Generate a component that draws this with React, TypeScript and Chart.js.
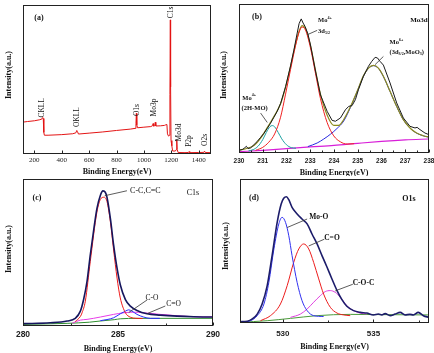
import { useEffect, useRef } from "react";
import { Chart, registerables } from "chart.js";

Chart.register(...registerables);

type Pt = [number, number];
type Part = [string, "" | "sup" | "sub"];

const SERIF = '"Liberation Serif", "Times New Roman", serif';
const SANS = '"Liberation Sans", Arial, sans-serif';

// ---------- (a) survey spectrum ----------
const surveyTicks = [200, 400, 600, 800, 1000, 1200, 1400];
const surveyCurve: Pt[] = [
  [117, 21.4], [150, 21.8], [200, 22.3], [240, 23.0], [255, 23.5], [261, 24.5], [265, 23.8],
  [269, 14.5], [273, 12.6], [300, 12.6], [400, 13.0], [480, 13.6], [503, 14.2], [510, 15.8],
  [515, 15.0], [522, 13.4], [600, 14.0], [700, 14.8], [800, 15.8], [900, 16.7], [936, 17.2],
  [942, 20.5], [945, 27.3], [948, 19.5], [954, 17.6], [1000, 18.0], [1050, 18.4], [1063, 19.0],
  [1067, 20.4], [1071, 18.7], [1079, 19.0], [1083, 21.3], [1087, 18.8], [1120, 18.9], [1150, 19.2],
  [1160, 19.6], [1168, 19.8], [1172, 13.5], [1180, 12.0], [1187, 12.5], [1190, 40], [1193, 90],
  [1195, 45], [1198, 9], [1204, 5.5], [1210, 2.0], [1230, 2.0], [1237, 3.0], [1240, 9.4],
  [1243, 3.0], [1250, 1.0], [1300, 0.9], [1325, 1.0], [1330, 1.6], [1335, 0.9], [1400, 1.0],
  [1438, 1.1], [1443, 1.9], [1448, 1.0], [1490, 0.9],
];
const surveyPeakNames = ["CKLL", "OKLL", "O1s", "Mo3p", "C1s", "Mo3d", "P2p", "O2s"];
const surveyPeakSpots: Pt[] = [
  [259, 31], [509, 24.8], [947, 29.5], [1072, 31.2], [1200, 95], [1254, 14.4], [1327, 8.7], [1444, 9.4],
];

// ---------- (b) Mo 3d ----------
const mo3dTicks = [230, 231, 232, 233, 234, 235, 236, 237, 238];
const mo3dMinor = [230.5, 231.5, 232.5, 233.5, 234.5, 235.5, 236.5, 237.5];
const mo3dRaw: Pt[] = [
  [230.0, 1.8], [230.15, 2.4], [230.25, 3.6], [230.31, 4.5], [230.38, 3.0], [230.49, 3.4],
  [230.63, 5.6], [230.77, 7.8], [230.91, 10.5], [231.05, 13.2], [231.19, 16.5], [231.33, 20.0],
  [231.47, 24.0], [231.61, 28.0], [231.75, 33.2], [231.96, 44.5], [232.17, 58.5], [232.31, 69.0],
  [232.45, 80.5], [232.53, 86.8], [232.62, 90.0], [232.7, 87.2], [232.78, 85.0], [232.9, 80.0],
  [233.01, 72.5], [233.22, 55.0], [233.43, 39.0], [233.71, 28.0], [233.92, 21.9], [234.06, 21.3],
  [234.27, 23.5], [234.48, 29.0], [234.62, 31.3], [234.76, 31.8], [234.9, 35.8], [235.03, 42.5],
  [235.24, 51.5], [235.45, 58.2], [235.59, 61.5], [235.73, 64.2], [235.83, 63.8], [235.94, 61.5],
  [236.08, 59.0], [236.36, 47.0], [236.64, 33.6], [236.92, 23.5], [237.2, 17.9], [237.41, 16.8],
  [237.5, 17.2], [237.62, 15.7], [237.83, 13.4], [238.0, 12.3],
];
const mo3dEnvelope: Pt[] = [
  [230.0, 1.8], [230.35, 3.2], [230.63, 5.0], [230.91, 10.0], [231.19, 17.0], [231.47, 24.5],
  [231.75, 33.0], [231.96, 44.0], [232.17, 58.0], [232.38, 73.0], [232.55, 82.5], [232.66, 85.5],
  [232.8, 83.5], [233.01, 72.0], [233.22, 55.5], [233.43, 39.5], [233.71, 25.5], [233.99, 18.5],
  [234.2, 18.5], [234.41, 22.5], [234.69, 31.0], [234.97, 41.3], [235.24, 51.8], [235.45, 57.0],
  [235.66, 58.8], [235.87, 57.0], [236.08, 51.5], [236.36, 41.4], [236.64, 31.3], [236.92, 22.4],
  [237.2, 16.8], [237.48, 13.4], [237.76, 11.6], [238.0, 10.7],
];
const mo3dMo4Main: Pt[] = [
  [230.7, 1.8], [231.0, 3.8], [231.25, 7.2], [231.5, 12.8], [231.75, 24.0], [231.96, 39.5],
  [232.17, 56.0], [232.38, 72.0], [232.55, 82.0], [232.66, 84.5], [232.8, 82.5], [233.01, 70.5],
  [233.22, 53.5], [233.43, 36.5], [233.71, 20.5], [233.99, 11.5], [234.27, 7.5], [234.55, 6.0],
  [234.85, 6.2],
];
const mo3d2H: Pt[] = [
  [230.4, 1.4], [230.6, 2.3], [230.8, 4.5], [231.0, 9.0], [231.15, 13.8], [231.3, 17.6],
  [231.4, 18.4], [231.5, 17.6], [231.65, 13.8], [231.8, 9.5], [232.0, 5.5], [232.2, 3.6], [232.4, 3.2],
];
const mo3dMo6: Pt[] = [
  [232.9, 4.3], [233.29, 6.7], [233.57, 9.4], [233.85, 12.6], [234.13, 16.5], [234.41, 21.5],
  [234.69, 30.5], [234.97, 41.0], [235.24, 51.5], [235.45, 56.8], [235.66, 58.6], [235.87, 56.8],
  [236.08, 51.3], [236.36, 41.3], [236.64, 31.2], [236.92, 22.3], [237.2, 16.7], [237.48, 13.3],
  [237.76, 11.5], [238.0, 10.6],
];
const mo3dBackground: Pt[] = [
  [230, 0.9], [231, 1.8], [232, 3.0], [233, 4.1], [234, 5.1], [235, 6.5], [236, 7.8], [237, 8.8], [238, 9.4],
];

// ---------- (c) C 1s ----------
const c1sTicks = [280, 285, 290];
const c1sMinor = [282.5, 287.5];
const c1sEnvelope: Pt[] = [
  [280, 1.6], [281.44, 2.2], [282.32, 3.4], [282.75, 5.2], [283.02, 10.1], [283.19, 18.0],
  [283.37, 30.3], [283.54, 48.3], [283.72, 65.2], [283.89, 79.8], [284.07, 88.8], [284.21, 91.9],
  [284.33, 91.0], [284.42, 87.6], [284.6, 73.0], [284.77, 55.0], [284.95, 39.3], [285.12, 28.1],
  [285.39, 18.0], [285.65, 13.5], [286.0, 10.6], [286.53, 8.3], [287.23, 7.4], [288.11, 6.7],
  [288.98, 6.3], [290, 6.1],
];
const c1sCC: Pt[] = [
  [282.75, 3.0], [283.02, 6.5], [283.11, 9.0], [283.28, 16.9], [283.54, 43.8], [283.89, 77.5],
  [284.07, 86.0], [284.25, 87.6], [284.42, 84.7], [284.6, 70.8], [284.77, 51.7], [284.95, 32.6],
  [285.12, 19.1], [285.39, 9.0], [285.65, 6.0], [286.0, 5.2], [286.3, 5.1],
];
const c1sCO: Pt[] = [
  [284.07, 3.6], [284.77, 5.6], [285.12, 8.3], [285.39, 10.1], [285.56, 11.0], [285.74, 10.1],
  [286.0, 7.9], [286.35, 6.1], [286.7, 5.2], [287.2, 5.2],
];
const c1sCdO: Pt[] = [
  [282.6, 2.0], [283.02, 4.0], [283.37, 4.5], [284.07, 6.1], [284.77, 7.9], [285.3, 9.0],
  [285.82, 9.4], [286.35, 9.0], [287.23, 7.9], [288.11, 7.0], [288.98, 6.3], [290, 6.1],
];
const c1sBackground: Pt[] = [
  [280, 1.1], [282.32, 1.8], [283.5, 2.6], [284.07, 3.4], [284.8, 4.3], [285.12, 4.9],
  [286.0, 5.2], [287, 5.2], [290, 5.2],
];

// ---------- (d) O 1s ----------
const o1sTicks = [530, 535];
const o1sMinor = [532.5, 537.5];
const o1sEnvelope: Pt[] = [
  [527.64, 0.9], [528.04, 1.2], [528.32, 2.8], [528.59, 6.2], [528.86, 13.2], [529.14, 25.9],
  [529.41, 46.8], [529.69, 69.9], [529.91, 82.6], [530.05, 86.6], [530.2, 87.7], [530.33, 85.6],
  [530.51, 80.3], [530.79, 75.7], [531.06, 72.2], [531.34, 68.8], [531.61, 61.8], [531.89, 54.9],
  [532.16, 46.8], [532.44, 38.7], [532.71, 30.6], [532.99, 22.5], [533.26, 16.2], [533.53, 11.6],
  [533.9, 8.6], [534.27, 7.4], [534.63, 6.9], [535.0, 5.6], [535.27, 6.2], [535.46, 5.6],
  [535.64, 6.5], [535.92, 5.1], [536.19, 6.2], [536.47, 7.4], [536.74, 5.6], [537.01, 6.0],
  [537.2, 5.6], [537.47, 7.4], [537.75, 5.1], [538.06, 3.9],
];
const o1sMoO: Pt[] = [
  [527.64, 0.5], [528.22, 1.6], [528.59, 5.1], [528.96, 13.2], [529.23, 28.2], [529.51, 51.4],
  [529.78, 68.8], [529.96, 73.4], [530.15, 69.9], [530.33, 60.6], [530.51, 46.8], [530.79, 28.2],
  [531.06, 15.5], [531.34, 8.6], [531.7, 5.1], [532.25, 4.5],
];
const o1sCdO: Pt[] = [
  [528.77, 1.6], [529.32, 5.1], [529.87, 13.2], [530.24, 25.9], [530.6, 42.1], [530.88, 51.4],
  [531.15, 54.9], [531.43, 51.4], [531.7, 42.1], [531.98, 30.6], [532.25, 20.1], [532.62, 10.9],
  [532.99, 6.9], [533.35, 5.6], [533.72, 5.1],
];
const o1sCOC: Pt[] = [
  [530.42, 3.9], [530.97, 6.2], [531.34, 9.7], [531.7, 14.4], [532.07, 19.0], [532.34, 21.8],
  [532.62, 22.5], [532.89, 21.3], [533.17, 17.8], [533.53, 12.0], [533.9, 8.6], [534.27, 6.9],
  [534.63, 6.3],
];
const o1sBackground: Pt[] = [
  [527.64, 0.5], [529.14, 1.6], [530.42, 3.2], [531.89, 5.1], [533.72, 6.0], [535.55, 5.8], [538.06, 5.6],
];

// ---------- panel description ----------
interface Series { pts: Pt[]; color: string; width: number; smooth: boolean }
interface Note { x: number; y: number; parts: Part[]; size: number; bold: boolean; align: "left" | "center"; vertical?: boolean }
interface Box { l: number; t: number; w: number; h: number }
interface Spec {
  canvas: Box;
  plot: { l: number; t: number; r: number; b: number };
  xMin: number; xMax: number;
  ticks: number[]; minor: number[];
  tickFont: { family: string; size: number; weight: string };
  tickPad: number;
  series: Series[];
  notes: Note[];
  leaders: [number, number, number, number][];
  tag: string; tagAt: [number, number];
  element?: { text: string; at: [number, number]; bold: boolean; size: number };
  xTitleY: number; yTitleX: number; yTitleY: number;
}

const plain = (t: string): Part[] => [[t, ""]];

const specs: Spec[] = [
  {
    canvas: { l: 0, t: 0, w: 217, h: 176 },
    plot: { l: 23, t: 5, r: 211, b: 154 },
    xMin: 117, xMax: 1490, ticks: surveyTicks, minor: [],
    tickFont: { family: SERIF, size: 7, weight: "normal" }, tickPad: 2,
    series: [{ pts: surveyCurve, color: "#e31414", width: 1, smooth: false }],
    notes: surveyPeakNames.map((n, i) => ({
      x: surveyPeakSpots[i][0], y: surveyPeakSpots[i][1], parts: plain(n), size: 7.5, bold: false,
      align: "center" as const, vertical: true,
    })),
    leaders: [],
    tag: "(a)", tagAt: [39, 18],
    xTitleY: 172, yTitleX: 9, yTitleY: 75,
  },
  {
    canvas: { l: 217, t: 0, w: 217, h: 176 },
    plot: { l: 239, t: 4, r: 429, b: 153 },
    xMin: 230, xMax: 238, ticks: mo3dTicks, minor: mo3dMinor,
    tickFont: { family: SANS, size: 6.5, weight: "bold" }, tickPad: 4,
    series: [
      { pts: mo3dRaw, color: "#1a1a1a", width: 1, smooth: false },
      { pts: mo3dMo4Main, color: "#f02020", width: 1, smooth: true },
      { pts: mo3dEnvelope, color: "#8c8c1e", width: 1.2, smooth: true },
      { pts: mo3d2H, color: "#1aa0a0", width: 1, smooth: true },
      { pts: mo3dMo6, color: "#2828e0", width: 1, smooth: true },
      { pts: mo3dBackground, color: "#d81ed8", width: 1.2, smooth: true },
    ],
    notes: [
      { x: 233.33, y: 88.8, parts: [["Mo", ""], ["4+", "sup"]], size: 6.5, bold: true, align: "left" },
      { x: 233.33, y: 81.6, parts: [["3d", ""], ["5/2", "sub"]], size: 6.5, bold: true, align: "left" },
      { x: 236.34, y: 74.2, parts: [["Mo", ""], ["6+", "sup"]], size: 6.5, bold: true, align: "left" },
      { x: 236.34, y: 67.5, parts: [["(3d", ""], ["3/2", "sub"], [",MoO", ""], ["3", "sub"], [")", ""]], size: 6.5, bold: true, align: "left" },
      { x: 230.14, y: 36.9, parts: [["Mo", ""], ["4+", "sup"]], size: 6.5, bold: true, align: "left" },
      { x: 230.11, y: 30.2, parts: [["(2H-MO)", ""]], size: 6.5, bold: true, align: "left" },
    ],
    leaders: [
      [233.29, 82.3, 232.88, 79.4],
      [236.08, 64.8, 235.73, 59.3],
      [230.91, 26.8, 231.19, 20.5],
    ],
    tag: "(b)", tagAt: [257, 17],
    element: { text: "Mo3d", at: [419, 20], bold: true, size: 7 },
    xTitleY: 173, yTitleX: 224, yTitleY: 75,
  },
  {
    canvas: { l: 0, t: 176, w: 240, h: 177 },
    plot: { l: 23, t: 179, r: 213, b: 326 },
    xMin: 280, xMax: 290, ticks: c1sTicks, minor: c1sMinor,
    tickFont: { family: SANS, size: 8.5, weight: "bold" }, tickPad: 4,
    series: [
      { pts: c1sEnvelope, color: "#16165e", width: 1.6, smooth: true },
      { pts: c1sCC, color: "#f01818", width: 1, smooth: true },
      { pts: c1sCO, color: "#2a2aff", width: 1, smooth: true },
      { pts: c1sCdO, color: "#e83ce8", width: 1, smooth: true },
      { pts: c1sBackground, color: "#2f8f2f", width: 1, smooth: true },
    ],
    notes: [
      { x: 286.44, y: 92, parts: plain("C-C,C=C"), size: 8, bold: false, align: "center" },
      { x: 286.79, y: 19.3, parts: plain("C-O"), size: 7.5, bold: false, align: "center" },
      { x: 287.93, y: 14.8, parts: plain("C=O"), size: 7.5, bold: false, align: "center" },
    ],
    leaders: [
      [285.47, 92, 284.3, 88.6],
      [286.53, 17.7, 285.56, 9.1],
      [287.49, 13.6, 286.53, 8.4],
    ],
    tag: "(c)", tagAt: [37, 198],
    element: { text: "C1s", at: [193, 193], bold: false, size: 8 },
    xTitleY: 349, yTitleX: 8.5, yTitleY: 249,
  },
  {
    canvas: { l: 217, t: 176, w: 217, h: 177 },
    plot: { l: 240, t: 179, r: 429, b: 323 },
    xMin: 527.64, xMax: 538.06, ticks: o1sTicks, minor: o1sMinor,
    tickFont: { family: SANS, size: 8, weight: "bold" }, tickPad: 6,
    series: [
      { pts: o1sEnvelope, color: "#1c1c6a", width: 1.6, smooth: true },
      { pts: o1sMoO, color: "#3030f0", width: 1, smooth: true },
      { pts: o1sCdO, color: "#ec1c1c", width: 1, smooth: true },
      { pts: o1sCOC, color: "#e040e0", width: 1, smooth: true },
      { pts: o1sBackground, color: "#4a9a3a", width: 1, smooth: true },
    ],
    notes: [
      { x: 531.98, y: 73.3, parts: plain("Mo-O"), size: 7.5, bold: true, align: "center" },
      { x: 532.71, y: 58.9, parts: plain("C=O"), size: 7.5, bold: true, align: "center" },
      { x: 534.45, y: 27.6, parts: plain("C-O-C"), size: 7.5, bold: true, align: "center" },
    ],
    leaders: [
      [531.34, 72.2, 530.24, 66.3],
      [532.29, 58.2, 531.43, 53.5],
      [533.86, 26.9, 532.89, 22.3],
    ],
    tag: "(d)", tagAt: [254, 198],
    element: { text: "O1s", at: [409, 199], bold: true, size: 8 },
    xTitleY: 347, yTitleX: 225.5, yTitleY: 246,
  },
];

function drawParts(ctx: CanvasRenderingContext2D, parts: Part[], x: number, y: number, size: number, bold: boolean, align: "left" | "center") {
  const fontFor = (k: string) => `${bold ? "bold " : ""}${k ? size * 0.62 : size}px ${SERIF}`;
  let total = 0;
  for (const [t, k] of parts) { ctx.font = fontFor(k); total += ctx.measureText(t).width; }
  let cx = align === "center" ? x - total / 2 : x;
  ctx.textAlign = "left";
  ctx.textBaseline = "middle";
  for (const [t, k] of parts) {
    ctx.font = fontFor(k);
    const dy = k === "sup" ? -size * 0.42 : k === "sub" ? size * 0.3 : 0;
    ctx.fillText(t, cx, y + dy);
    cx += ctx.measureText(t).width;
  }
}

function Panel({ spec }: { spec: Spec }) {
  const ref = useRef<HTMLCanvasElement>(null);
  useEffect(() => {
    const el = ref.current;
    if (!el) return;
    const { canvas, plot } = spec;
    const decor = {
      id: "decor",
      afterDraw(chart: any) {
        const ctx: CanvasRenderingContext2D = chart.ctx;
        const ca = chart.chartArea;
        const xs = chart.scales.x;
        const ys = chart.scales.y;
        ctx.save();
        // frame
        ctx.strokeStyle = "#222";
        ctx.lineWidth = 1;
        ctx.strokeRect(Math.round(ca.left) + 0.5, Math.round(ca.top) + 0.5,
          Math.round(ca.right - ca.left) - 1, Math.round(ca.bottom - ca.top) - 1);
        // inward ticks on the energy axis
        const bottom = Math.round(ca.bottom) - 0.5;
        ctx.beginPath();
        for (const v of spec.ticks) {
          const px = Math.round(xs.getPixelForValue(v)) + 0.5;
          ctx.moveTo(px, bottom); ctx.lineTo(px, bottom - 3);
        }
        for (const v of spec.minor) {
          const px = Math.round(xs.getPixelForValue(v)) + 0.5;
          ctx.moveTo(px, bottom); ctx.lineTo(px, bottom - 2);
        }
        ctx.stroke();
        ctx.fillStyle = "#111";
        // peak notes
        for (const n of spec.notes) {
          const px = xs.getPixelForValue(n.x);
          const py = ys.getPixelForValue(n.y);
          if (n.vertical) {
            ctx.save();
            ctx.translate(px, py);
            ctx.rotate(-Math.PI / 2);
            drawParts(ctx, n.parts, 0, 0, n.size, n.bold, "center");
            ctx.restore();
          } else {
            drawParts(ctx, n.parts, px, py, n.size, n.bold, n.align);
          }
        }
        ctx.strokeStyle = "#333";
        ctx.lineWidth = 0.8;
        ctx.beginPath();
        for (const [x1, y1, x2, y2] of spec.leaders) {
          ctx.moveTo(xs.getPixelForValue(x1), ys.getPixelForValue(y1));
          ctx.lineTo(xs.getPixelForValue(x2), ys.getPixelForValue(y2));
        }
        ctx.stroke();
        // panel tag and element
        const ox = canvas.l, oy = canvas.t;
        ctx.textAlign = "center";
        ctx.textBaseline = "middle";
        ctx.font = `bold 8px ${SERIF}`;
        ctx.fillText(spec.tag, spec.tagAt[0] - ox, spec.tagAt[1] - oy);
        if (spec.element) {
          const e = spec.element;
          ctx.font = `${e.bold ? "bold " : ""}${e.size}px ${SERIF}`;
          ctx.fillText(e.text, e.at[0] - ox, e.at[1] - oy);
        }
        // axis titles
        ctx.font = `bold 8px ${SERIF}`;
        ctx.fillText("Binding Energy(eV)", (ca.left + ca.right) / 2, spec.xTitleY - oy);
        ctx.save();
        ctx.translate(spec.yTitleX - ox, spec.yTitleY - oy);
        ctx.rotate(-Math.PI / 2);
        ctx.fillText("Intensity(a.u.)", 0, 0);
        ctx.restore();
        ctx.restore();
      },
    };
    const chart = new Chart(el, {
      type: "line",
      data: {
        datasets: spec.series.map((s, i) => ({
          data: s.pts.map(([x, y]) => ({ x, y })),
          borderColor: s.color,
          borderWidth: s.width,
          pointRadius: 0,
          fill: false,
          tension: 0,
          cubicInterpolationMode: s.smooth ? "monotone" : "default",
          order: i,
        })),
      },
      options: {
        responsive: false,
        maintainAspectRatio: false,
        animation: false,
        devicePixelRatio: 1,
        events: [],
        layout: {
          padding: {
            left: plot.l - canvas.l,
            top: plot.t - canvas.t,
            right: canvas.l + canvas.w - plot.r,
            bottom: 0,
          },
        },
        plugins: { legend: { display: false }, tooltip: { enabled: false } },
        scales: {
          x: {
            type: "linear",
            min: spec.xMin,
            max: spec.xMax,
            grid: { display: false, drawTicks: false },
            border: { display: false },
            ticks: {
              font: { family: spec.tickFont.family, size: spec.tickFont.size, weight: spec.tickFont.weight as any },
              color: "#222",
              padding: spec.tickPad,
              maxRotation: 0,
              autoSkip: false,
              callback: (v: any) => String(v),
            },
            afterBuildTicks: (s: any) => { s.ticks = spec.ticks.map((v) => ({ value: v })); },
            afterFit: (s: any) => {
              s.height = canvas.t + canvas.h - plot.b;
              s.paddingLeft = 0;
              s.paddingRight = 0;
            },
          },
          y: { type: "linear", min: 0, max: 100, display: false },
        },
      } as any,
      plugins: [decor],
    });
    return () => chart.destroy();
  }, [spec]);
  return (
    <canvas
      ref={ref}
      width={spec.canvas.w}
      height={spec.canvas.h}
      style={{ position: "absolute", left: spec.canvas.l, top: spec.canvas.t, width: spec.canvas.w, height: spec.canvas.h }}
    />
  );
}

export default function App() {
  return (
    <div style={{ position: "fixed", left: 0, top: 0, width: 434, height: 353, background: "#fff", overflow: "hidden" }}>
      {specs.map((s, i) => <Panel key={i} spec={s} />)}
    </div>
  );
}
